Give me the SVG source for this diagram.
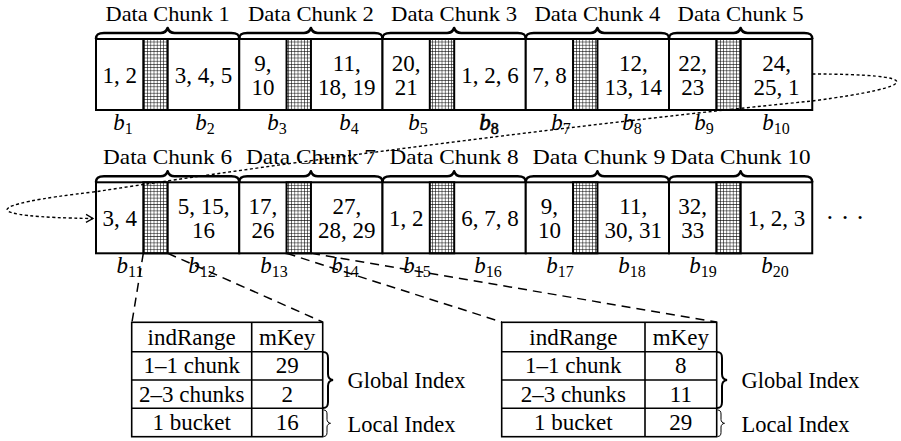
<svg xmlns="http://www.w3.org/2000/svg" width="901" height="441" viewBox="0 0 901 441">
<defs>
<pattern id="grid" width="3.2" height="3.2" patternUnits="userSpaceOnUse">
<rect width="3.2" height="3.2" fill="#fff"/>
<path d="M0,0.3H3.2M0.3,0V3.2" stroke="#000" stroke-width="0.6"/>
</pattern>
<marker id="arr" markerUnits="userSpaceOnUse" markerWidth="10" markerHeight="10" refX="7" refY="4" orient="auto" viewBox="-1 -1 10 10">
<path d="M0,0 L7,4 L0,8" fill="none" stroke="#000" stroke-width="1.3" stroke-dasharray="none"/>
</marker>
</defs>
<style>
text{font-family:"Liberation Serif","Times New Roman",serif;fill:#000}
.lbl{font-size:21.5px;text-anchor:middle}
.num{font-size:23px;text-anchor:middle}
.b{font-size:23px;font-style:italic;text-anchor:middle}
.sub{font-size:16px;font-style:normal}
.tt{font-size:23px;text-anchor:middle}
.side{font-size:22.5px}
.box{fill:#fff;stroke:#000;stroke-width:2}
.hatch{fill:url(#grid);stroke:#000;stroke-width:2}
.brace{fill:none;stroke:#000;stroke-width:2.6;stroke-linejoin:round}
.tb{fill:none;stroke:#000;stroke-width:1.6}
.dot{fill:none;stroke:#000;stroke-width:1.4;stroke-dasharray:3 2.5}
.dash{fill:none;stroke:#000;stroke-width:1.5;stroke-dasharray:9 6}
</style>

<!-- Row 1 -->
<g id="chunk1">
<path class="brace" d="M96,39 C96,34.5 98,33 104,33 L160.6,33 C164.6,33 166.6,31 167.6,28 C168.6,31 170.6,33 174.6,33 L231.25,33 C237.25,33 239.25,34.5 239.25,39"/>
<text class="lbl" x="167.6" y="21" textLength="124" lengthAdjust="spacingAndGlyphs">Data Chunk 1</text>
<rect class="box" x="96" y="39" width="143.25" height="71"/>
<rect class="hatch" x="143.3" y="39" width="24.4" height="71"/>
<text class="num" x="119.65" y="82.5">1, 2</text>
<text class="num" x="203.5" y="82.5">3, 4, 5</text>
<text class="b" x="123" y="130">b<tspan class="sub" dy="3.5">1</tspan></text>
<text class="b" x="205" y="130">b<tspan class="sub" dy="3.5">2</tspan></text>
</g>
<g id="chunk2">
<path class="brace" d="M239.25,39 C239.25,34.5 241.25,33 247.25,33 L303.9,33 C307.9,33 309.9,31 310.9,28 C311.9,31 313.9,33 317.9,33 L374.5,33 C380.5,33 382.5,34.5 382.5,39"/>
<text class="lbl" x="310.9" y="21" textLength="126" lengthAdjust="spacingAndGlyphs">Data Chunk 2</text>
<rect class="box" x="239.25" y="39" width="143.25" height="71"/>
<rect class="hatch" x="286.55" y="39" width="24.4" height="71"/>
<text class="num" x="262.9" y="71">9,</text>
<text class="num" x="262.9" y="95">10</text>
<text class="num" x="346.75" y="71">11,</text>
<text class="num" x="346.75" y="95">18, 19</text>
<text class="b" x="277" y="130">b<tspan class="sub" dy="3.5">3</tspan></text>
<text class="b" x="349" y="130">b<tspan class="sub" dy="3.5">4</tspan></text>
</g>
<g id="chunk3">
<path class="brace" d="M382.5,39 C382.5,34.5 384.5,33 390.5,33 L447.1,33 C451.1,33 453.1,31 454.1,28 C455.1,31 457.1,33 461.1,33 L517.75,33 C523.75,33 525.75,34.5 525.75,39"/>
<text class="lbl" x="454.1" y="21" textLength="126" lengthAdjust="spacingAndGlyphs">Data Chunk 3</text>
<rect class="box" x="382.5" y="39" width="143.25" height="71"/>
<rect class="hatch" x="429.8" y="39" width="24.4" height="71"/>
<text class="num" x="406.15" y="71">20,</text>
<text class="num" x="406.15" y="95">21</text>
<text class="num" x="490" y="82.5">1, 2, 6</text>
<text class="b" x="418" y="130">b<tspan class="sub" dy="3.5">5</tspan></text>
<text class="b" x="489" y="130" stroke="#000" stroke-width="0.6">b<tspan class="sub" dy="3.5">8</tspan></text>
</g>
<g id="chunk4">
<path class="brace" d="M525.75,39 C525.75,34.5 527.75,33 533.75,33 L590.4,33 C594.4,33 596.4,31 597.4,28 C598.4,31 600.4,33 604.4,33 L661,33 C667,33 669,34.5 669,39"/>
<text class="lbl" x="597.4" y="21" textLength="126" lengthAdjust="spacingAndGlyphs">Data Chunk 4</text>
<rect class="box" x="525.75" y="39" width="143.25" height="71"/>
<rect class="hatch" x="573.05" y="39" width="24.4" height="71"/>
<text class="num" x="549.4" y="82.5">7, 8</text>
<text class="num" x="633.25" y="71">12,</text>
<text class="num" x="633.25" y="95">13, 14</text>
<text class="b" x="561" y="130">b<tspan class="sub" dy="3.5">7</tspan></text>
<text class="b" x="632" y="130">b<tspan class="sub" dy="3.5">8</tspan></text>
</g>
<g id="chunk5">
<path class="brace" d="M669,39 C669,34.5 671,33 677,33 L733.6,33 C737.6,33 739.6,31 740.6,28 C741.6,31 743.6,33 747.6,33 L804.25,33 C810.25,33 812.25,34.5 812.25,39"/>
<text class="lbl" x="740.6" y="21" textLength="126" lengthAdjust="spacingAndGlyphs">Data Chunk 5</text>
<rect class="box" x="669" y="39" width="143.25" height="71"/>
<rect class="hatch" x="716.3" y="39" width="24.4" height="71"/>
<text class="num" x="692.65" y="71">22,</text>
<text class="num" x="692.65" y="95">23</text>
<text class="num" x="776.5" y="71">24,</text>
<text class="num" x="776.5" y="95">25, 1</text>
<text class="b" x="704" y="130">b<tspan class="sub" dy="3.5">9</tspan></text>
<text class="b" x="776" y="130">b<tspan class="sub" dy="3.5">10</tspan></text>
</g>

<!-- Row 2 -->
<g id="chunk6" transform="translate(0,143.3)">
<path class="brace" d="M96,39 C96,34.5 98,33 104,33 L160.6,33 C164.6,33 166.6,31 167.6,28 C168.6,31 170.6,33 174.6,33 L231.25,33 C237.25,33 239.25,34.5 239.25,39"/>
<text class="lbl" x="167.6" y="21" textLength="129" lengthAdjust="spacingAndGlyphs">Data Chunk 6</text>
<rect class="box" x="96" y="39" width="143.25" height="71"/>
<rect class="hatch" x="143.3" y="39" width="24.4" height="71"/>
<text class="num" x="119.65" y="82.5">3, 4</text>
<text class="num" x="203.5" y="71">5, 15,</text>
<text class="num" x="203.5" y="95">16</text>
<text class="b" x="130" y="130">b<tspan class="sub" dy="3.5">11</tspan></text>
<text class="b" x="202" y="130">b<tspan class="sub" dy="3.5">12</tspan></text>
</g>
<g id="chunk7" transform="translate(0,143.3)">
<path class="brace" d="M239.25,39 C239.25,34.5 241.25,33 247.25,33 L303.9,33 C307.9,33 309.9,31 310.9,28 C311.9,31 313.9,33 317.9,33 L374.5,33 C380.5,33 382.5,34.5 382.5,39"/>
<text class="lbl" x="310.9" y="21" textLength="130" lengthAdjust="spacingAndGlyphs">Data Chunk 7</text>
<rect class="box" x="239.25" y="39" width="143.25" height="71"/>
<rect class="hatch" x="286.55" y="39" width="24.4" height="71"/>
<text class="num" x="262.9" y="71">17,</text>
<text class="num" x="262.9" y="95">26</text>
<text class="num" x="346.75" y="71">27,</text>
<text class="num" x="346.75" y="95">28, 29</text>
<text class="b" x="274" y="130">b<tspan class="sub" dy="3.5">13</tspan></text>
<text class="b" x="345" y="130">b<tspan class="sub" dy="3.5">14</tspan></text>
</g>
<g id="chunk8" transform="translate(0,143.3)">
<path class="brace" d="M382.5,39 C382.5,34.5 384.5,33 390.5,33 L447.1,33 C451.1,33 453.1,31 454.1,28 C455.1,31 457.1,33 461.1,33 L517.75,33 C523.75,33 525.75,34.5 525.75,39"/>
<text class="lbl" x="454.1" y="21" textLength="129" lengthAdjust="spacingAndGlyphs">Data Chunk 8</text>
<rect class="box" x="382.5" y="39" width="143.25" height="71"/>
<rect class="hatch" x="429.8" y="39" width="24.4" height="71"/>
<text class="num" x="406.15" y="82.5">1, 2</text>
<text class="num" x="490" y="82.5">6, 7, 8</text>
<text class="b" x="417" y="130">b<tspan class="sub" dy="3.5">15</tspan></text>
<text class="b" x="488" y="130">b<tspan class="sub" dy="3.5">16</tspan></text>
</g>
<g id="chunk9" transform="translate(0,143.3)">
<path class="brace" d="M525.75,39 C525.75,34.5 527.75,33 533.75,33 L590.4,33 C594.4,33 596.4,31 597.4,28 C598.4,31 600.4,33 604.4,33 L661,33 C667,33 669,34.5 669,39"/>
<text class="lbl" x="599" y="21" textLength="133" lengthAdjust="spacingAndGlyphs">Data Chunk 9</text>
<rect class="box" x="525.75" y="39" width="143.25" height="71"/>
<rect class="hatch" x="573.05" y="39" width="24.4" height="71"/>
<text class="num" x="549.4" y="71">9,</text>
<text class="num" x="549.4" y="95">10</text>
<text class="num" x="633.25" y="71">11,</text>
<text class="num" x="633.25" y="95">30, 31</text>
<text class="b" x="560" y="130">b<tspan class="sub" dy="3.5">17</tspan></text>
<text class="b" x="632" y="130">b<tspan class="sub" dy="3.5">18</tspan></text>
</g>
<g id="chunk10" transform="translate(0,143.3)">
<path class="brace" d="M669,39 C669,34.5 671,33 677,33 L733.6,33 C737.6,33 739.6,31 740.6,28 C741.6,31 743.6,33 747.6,33 L804.25,33 C810.25,33 812.25,34.5 812.25,39"/>
<text class="lbl" x="740.6" y="21" textLength="140" lengthAdjust="spacingAndGlyphs">Data Chunk 10</text>
<rect class="box" x="669" y="39" width="143.25" height="71"/>
<rect class="hatch" x="716.3" y="39" width="24.4" height="71"/>
<text class="num" x="692.65" y="71">32,</text>
<text class="num" x="692.65" y="95">33</text>
<text class="num" x="776.5" y="82.5">1, 2, 3</text>
<text class="b" x="703" y="130">b<tspan class="sub" dy="3.5">19</tspan></text>
<text class="b" x="775" y="130">b<tspan class="sub" dy="3.5">20</tspan></text>
</g>
<g id="more">
<text class="num" x="845" y="225.5" style="font-size:26px">· · ·</text>
</g>

<!-- Tables -->
<g id="table1">
<rect class="tb" x="131.7" y="322.3" width="191" height="114.4"/>
<path class="tb" d="M251.7,322.3V436.7M131.7,351.7H322.7M131.7,380H322.7M131.7,408.3H322.7"/>
<text class="tt" x="191.7" y="344.5">indRange</text>
<text class="tt" x="287.2" y="344.5">mKey</text>
<text class="tt" x="191.7" y="373">1–1 chunk</text>
<text class="tt" x="287.2" y="373">29</text>
<text class="tt" x="191.7" y="401.5">2–3 chunks</text>
<text class="tt" x="287.2" y="401.5">2</text>
<text class="tt" x="191.7" y="430">1 bucket</text>
<text class="tt" x="287.2" y="430">16</text>
</g>
<g id="index1">
<path fill="none" stroke="#000" stroke-width="2" d="M323,352 C327,352 328,354 328,358 L328,374 C328,377 330,379.5 333,380 C330,380.5 328,383 328,386 L328,402 C328,406 327,408 323,408"/>
<path fill="none" stroke="#000" stroke-width="1" d="M323.5,410 C326,410 327,411.5 327,414 L327,419.5 C327,421.5 328.5,423 330.5,423.3 C328.5,423.6 327,425 327,427 L327,432.5 C327,435 326,436.5 323.5,436.5"/>
<text class="side" x="347.5" y="388">Global Index</text>
<text class="side" x="347.5" y="431.5">Local Index</text>
</g>
<g id="table2">
<rect class="tb" x="501.7" y="322.3" width="215" height="114.4"/>
<path class="tb" d="M645,322.3V436.7M501.7,351.7H716.7M501.7,380H716.7M501.7,408.3H716.7"/>
<text class="tt" x="573.35" y="344.5">indRange</text>
<text class="tt" x="680.85" y="344.5">mKey</text>
<text class="tt" x="573.35" y="373">1–1 chunk</text>
<text class="tt" x="680.85" y="373">8</text>
<text class="tt" x="573.35" y="401.5">2–3 chunks</text>
<text class="tt" x="680.85" y="401.5">11</text>
<text class="tt" x="573.35" y="430">1 bucket</text>
<text class="tt" x="680.85" y="430">29</text>
</g>
<g id="index2">
<path fill="none" stroke="#000" stroke-width="2" d="M717,352 C721,352 722,354 722,358 L722,374 C722,377 724,379.5 727,380 C724,380.5 722,383 722,386 L722,402 C722,406 721,408 717,408"/>
<path fill="none" stroke="#000" stroke-width="1" d="M717.5,410 C720,410 721,411.5 721,414 L721,419.5 C721,421.5 722.5,423 724.5,423.3 C722.5,423.6 721,425 721,427 L721,432.5 C721,435 720,436.5 717.5,436.5"/>
<text class="side" x="741.5" y="388">Global Index</text>
<text class="side" x="741.5" y="431.5">Local Index</text>
</g>

<!-- Connectors -->
<g id="connectors">
<path class="dot" marker-end="url(#arr)" d="M812.25,74 C925,74 925,86 812.25,101 C600,122 300,160 96,191.7 C-22,205 -22,217 93,218.5"/>
<path class="dash" d="M143.3,253.3 L132,322"/>
<path class="dash" d="M167.7,253.3 L322.7,322"/>
<path class="dash" d="M286.6,253.3 L501.7,322"/>
<path class="dash" d="M311,253.3 L716.7,322"/>
</g>
</svg>
